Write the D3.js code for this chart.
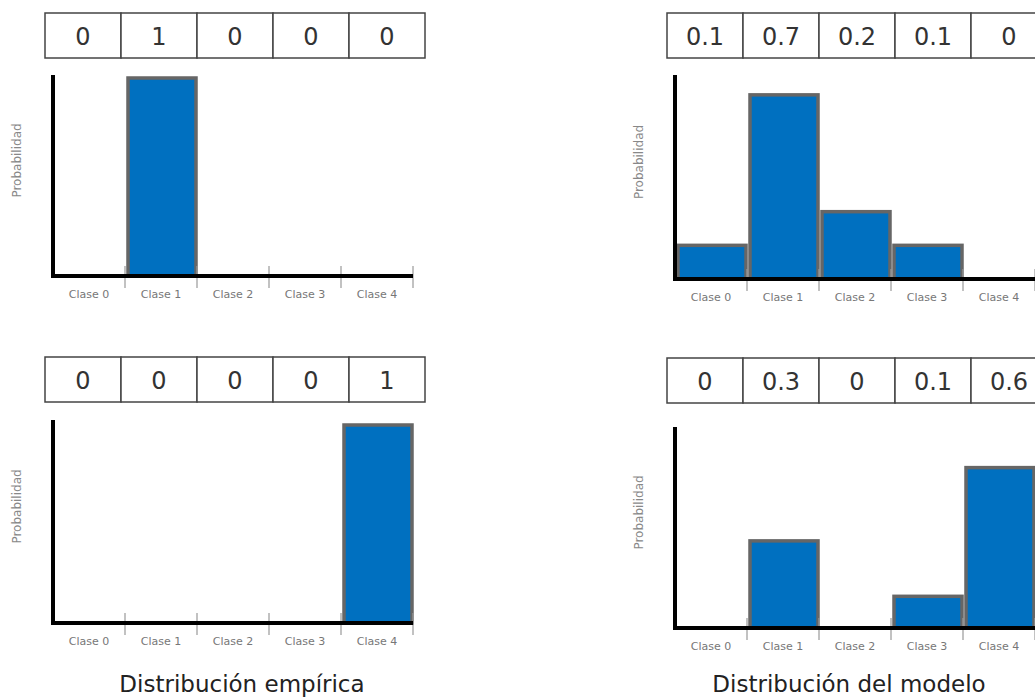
<!DOCTYPE html>
<html><head><meta charset="utf-8">
<script src="https://cdn.jsdelivr.net/npm/d3@7"></script>
<style>body{margin:0;background:#fff}svg{display:block}</style>
</head><body>
<svg id="c" width="1035" height="700"></svg>
<script>
const categories = ["Clase 0","Clase 1","Clase 2","Clase 3","Clase 4"];
// table labels per panel
const empiricalTop = ["0","1","0","0","0"];
const modelTop = ["0.1","0.7","0.2","0.1","0"];
const empiricalBottom = ["0","0","0","0","1"];
const modelBottom = ["0","0.3","0","0.1","0.6"];
// bar heights as drawn (relative to axis height)
const empiricalTopBars = [0, 1, 0, 0, 0];
const modelTopBars = [0.17, 0.93, 0.34, 0.17, 0];
const empiricalBottomBars = [0, 0, 0, 0, 1];
const modelBottomBars = [0, 0.44, 0, 0.16, 0.81];
const titles = ["Distribución empírica", "Distribución del modelo"];
const yLabel = "Probabilidad";

const svg = d3.select("#c");
const panels = [
  {x0:53, tableY:13, axisTop:75, base:276, labels:empiricalTop, bars:empiricalTopBars},
  {x0:675, tableY:13, axisTop:75, base:279, labels:modelTop, bars:modelTopBars},
  {x0:53, tableY:357, axisTop:420, base:623, labels:empiricalBottom, bars:empiricalBottomBars},
  {x0:675, tableY:358, axisTop:427, base:628, labels:modelBottom, bars:modelBottomBars}
];

panels.forEach(p => {
  const g = svg.append("g");
  const x = d3.scaleBand().domain(categories).range([p.x0, p.x0 + 360]).padding(0);
  const y = d3.scaleLinear().domain([0, 1]).range([p.base, p.base - 198]);
  // table
  const tx = d3.scaleBand().domain(categories).range([p.x0 - 8, p.x0 - 8 + 380]);
  const th = 45;
  g.selectAll("rect.cell").data(categories).join("rect")
    .attr("x", d => tx(d)).attr("y", p.tableY)
    .attr("width", tx.bandwidth()).attr("height", th)
    .attr("fill", "#fff").attr("stroke", "#444").attr("stroke-width", 1.5);
  g.selectAll("text.cell").data(p.labels).join("text")
    .attr("x", (d, i) => tx(categories[i]) + tx.bandwidth() / 2)
    .attr("y", p.tableY + th / 2 + 9)
    .attr("text-anchor", "middle")
    .attr("font-family", "DejaVu Sans").attr("font-size", 24).attr("fill", "#333")
    .text(d => d);
  // bars
  g.selectAll("rect.bar").data(p.bars.map((v, i) => ({c: categories[i], v})).filter(d => d.v > 0)).join("rect")
    .attr("x", d => x(d.c) + 3).attr("width", x.bandwidth() - 4)
    .attr("y", d => y(d.v)).attr("height", d => y(0) - y(d.v))
    .attr("fill", "#0070c0").attr("stroke", "#666").attr("stroke-width", 3.5);
  // ticks
  g.selectAll("line.tick").data(categories.slice(1).concat(["end"])).join("line")
    .attr("x1", (d, i) => x.range()[0] + x.bandwidth() * (i + 1))
    .attr("x2", (d, i) => x.range()[0] + x.bandwidth() * (i + 1))
    .attr("y1", p.base - 10).attr("y2", p.base + 12)
    .attr("stroke", "#999").attr("stroke-width", 1.2);
  // axes
  g.append("line").attr("x1", p.x0).attr("x2", p.x0).attr("y1", p.axisTop).attr("y2", p.base + 2)
    .attr("stroke", "#000").attr("stroke-width", 4);
  g.append("line").attr("x1", p.x0).attr("x2", p.x0 + 360).attr("y1", p.base).attr("y2", p.base)
    .attr("stroke", "#000").attr("stroke-width", 4);
  // category labels
  g.selectAll("text.cat").data(categories).join("text")
    .attr("x", d => x(d) + x.bandwidth() / 2).attr("y", p.base + 22)
    .attr("text-anchor", "middle").attr("font-family", "DejaVu Sans")
    .attr("font-size", 11).attr("fill", "#777").text(d => d);
  // y label
  const cy = (p.axisTop + p.base) / 2 - 15;
  g.append("text").attr("transform", `translate(${p.x0 - 32},${cy}) rotate(-90)`)
    .attr("text-anchor", "middle").attr("font-family", "DejaVu Sans")
    .attr("font-size", 12).attr("fill", "#888").text(yLabel);
});

svg.selectAll("text.title").data(titles).join("text")
  .attr("x", (d, i) => i === 0 ? 242 : 849).attr("y", 692)
  .attr("text-anchor", "middle").attr("font-family", "DejaVu Sans")
  .attr("font-size", 23).attr("fill", "#222").text(d => d);
</script>
</body></html>
